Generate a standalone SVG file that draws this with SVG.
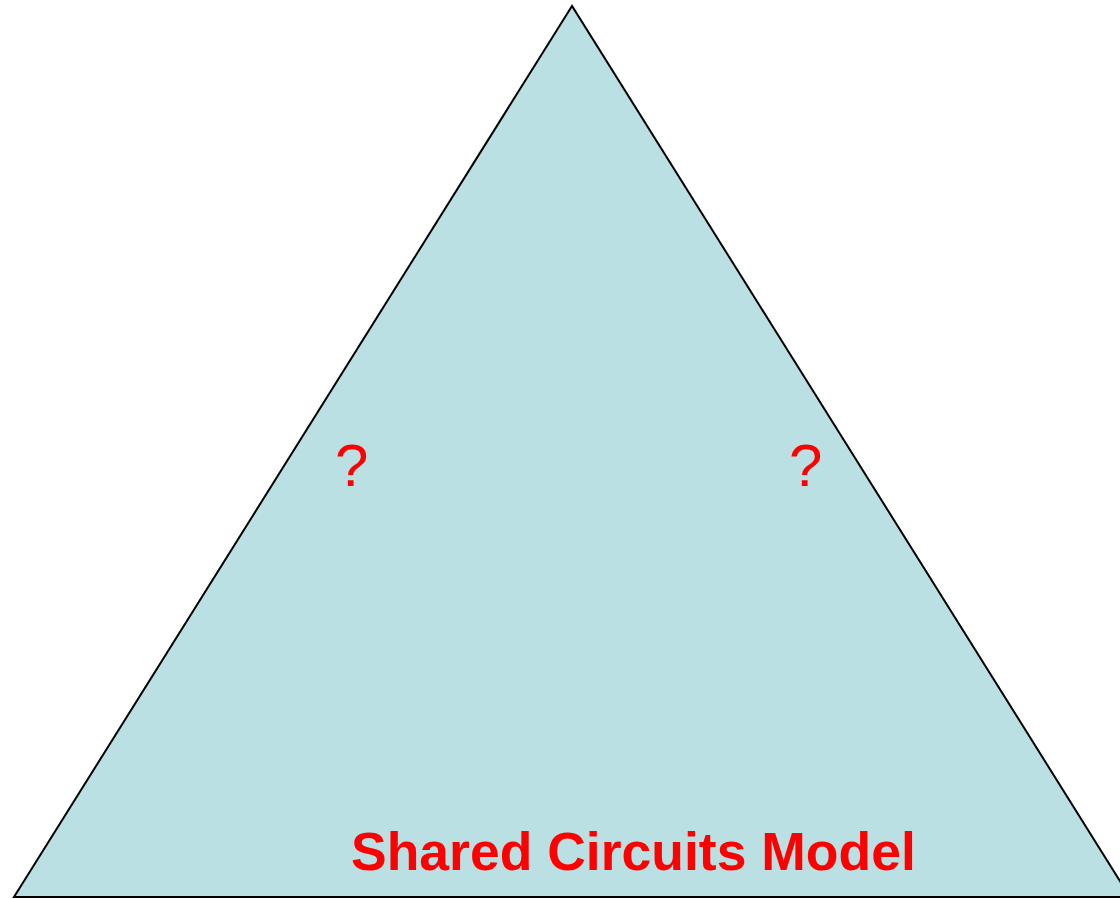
<svg xmlns="http://www.w3.org/2000/svg" width="1120" height="899" viewBox="0 0 1120 899">
<style>
.q{font-family:"Liberation Sans",Arial,sans-serif;font-size:60px;fill:#ff0000}
.t{font-family:"Liberation Sans",Arial,sans-serif;font-size:53.5px;font-weight:bold;fill:#ff0000}
</style>
<rect width="1120" height="899" fill="#ffffff"/>
<g id="triangle">
<polygon points="572,6 14,897 1130,897" fill="#bbe0e3" stroke="#000000" stroke-width="2"/>
</g>
<g id="q1"><text class="q" x="335" y="486">?</text></g>
<g id="q2"><text class="q" x="789" y="486">?</text></g>
<g id="title"><text class="t" x="351" y="870">Shared Circuits Model</text></g>
</svg>
